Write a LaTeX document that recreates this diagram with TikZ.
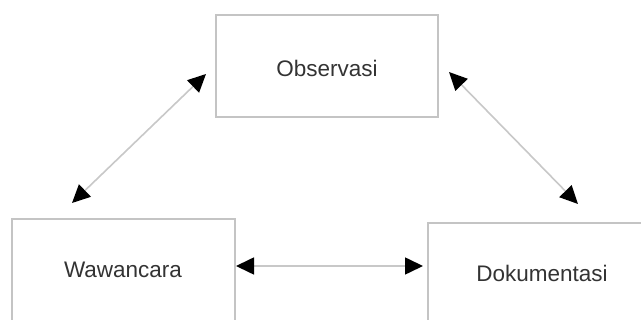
\documentclass[tikz,border=0pt]{standalone}
\usepackage{fontspec}
\setmainfont{Liberation Sans}
\usetikzlibrary{arrows.meta}
\definecolor{boxline}{HTML}{C4C4C4}
\definecolor{arrline}{HTML}{C8C8C8}
\definecolor{txt}{HTML}{333333}
\begin{document}
\begin{tikzpicture}[x=1pt,y=-1pt,
  box/.style={draw=boxline,line width=1.3pt,fill=white,inner sep=0pt},
  lbl/.style={text=txt,font=\fontsize{22.5}{26}\selectfont,inner sep=0pt},
  conn/.style={draw=arrline,line width=1.6pt,{Triangle[length=18pt,width=17pt,fill=black,color=black]}-{Triangle[length=18pt,width=17pt,fill=black,color=black]}}]
\useasboundingbox (0,0) rectangle (641,320);
\clip (0,0) rectangle (641,320);
\fill[white] (0,0) rectangle (641,320);
\draw[box] (216,15) rectangle (438,117);
\draw[box] (12,219) rectangle (235,340);
\draw[box] (428,223) rectangle (660,340);
\node[lbl] (obs) at (327,68) {Observasi};
\node[lbl] (waw) at (123,270) {Wawancara};
\node[lbl] (dok) at (542,273) {Dokumentasi};
\coordinate (a1) at (72,203);
\coordinate (a2) at (206,74);
\coordinate (b1) at (449,72);
\coordinate (b2) at (578,204);
\coordinate (c1) at (236,266);
\coordinate (c2) at (423,266);
\draw[conn] (a1) -- (a2);
\draw[conn] (b1) -- (b2);
\draw[conn] (c1) -- (c2);
\end{tikzpicture}
\end{document}
